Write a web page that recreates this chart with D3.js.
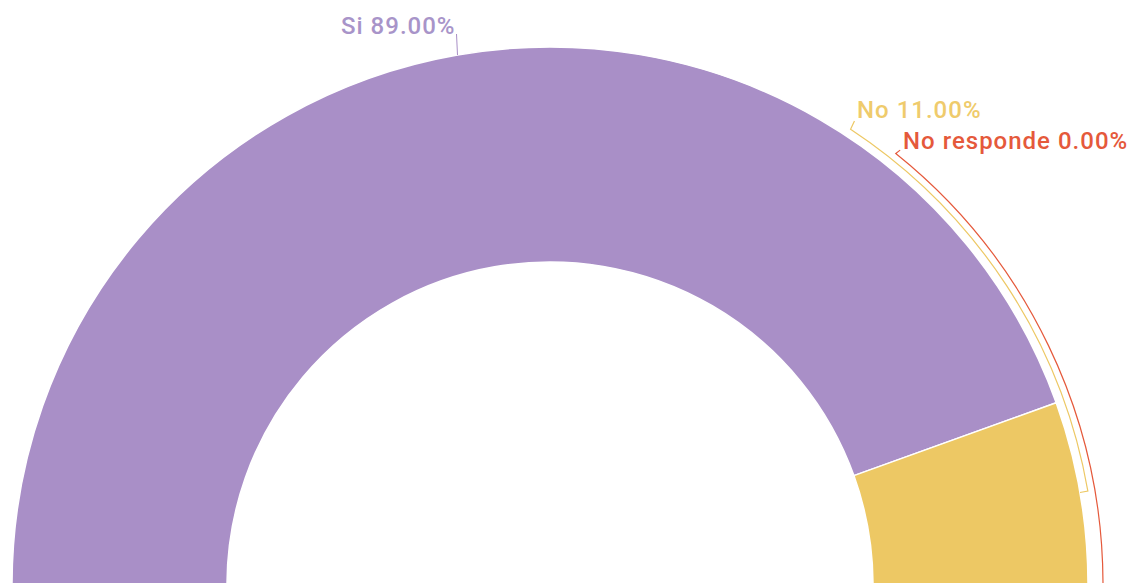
<!DOCTYPE html>
<html>
<head>
<meta charset="utf-8">
<script src="https://cdn.jsdelivr.net/npm/d3@7"></script>
<style>
  html, body { margin: 0; padding: 0; background: #fff; }
  #chart { width: 1130px; height: 583px; overflow: hidden; }
  .label { font-family: Roboto, "Noto Sans", sans-serif; font-size: 24px; font-weight: 500; letter-spacing: 1px; }
</style>
</head>
<body>
<div id="chart"></div>
<script>
const categories = ["Si", "No", "No responde"];
const values = [89, 11, 0];
const colors = ["#a98fc7", "#edc864", "#e5593b"];
const textColors = ["#a894c9", "#efcb6c", "#e5593b"];

const width = 1130,
  height = 583;
const cx = 550,
  cy = 585,
  outerR = 538,
  innerR = 323;

// label guides: radius of the guide arc, angle (deg) where the guide ends, text offset
const guides = [
  { r: outerR, angle: null, dx: -2, dy: 0 },
  { r: 546, angle: 33.4, dx: 6.5, dy: -11 },
  { r: 553, angle: 38.7, dx: 7.3, dy: -4.4 }
];

const svg = d3.select("#chart").append("svg")
  .attr("width", width)
  .attr("height", height);

const g = svg.append("g")
  .attr("transform", "translate(" + cx + "," + cy + ")");

const pie = d3.pie()
  .sort(null)
  .value(d => d)
  .startAngle(-Math.PI / 2)
  .endAngle(Math.PI / 2);

const arcs = pie(values);

const arc = d3.arc()
  .innerRadius(innerR)
  .outerRadius(outerR);

g.selectAll("path.slice")
  .data(arcs)
  .enter().append("path")
  .attr("class", "slice")
  .attr("d", arc)
  .attr("fill", (d, i) => colors[i])
  .attr("stroke", "#fff")
  .attr("stroke-width", 1.5);

const polar = (r, a) => [r * Math.sin(a), -r * Math.cos(a)];
const rad = deg => deg * Math.PI / 180;

arcs.forEach((d, i) => {
  const mid = (d.startAngle + d.endAngle) / 2;
  const gd = guides[i];
  const start = polar(outerR, mid);
  const text = labelText(i);

  if (gd.angle === null) {
    // straight tick up to the label
    const topY = 34 - cy;
    g.append("path")
      .attr("d", "M" + start[0] + "," + start[1] + "L" + (start[0] - 1) + "," + topY)
      .attr("fill", "none")
      .attr("stroke", colors[i])
      .attr("stroke-width", 1);
    g.append("text")
      .attr("class", "label")
      .attr("x", start[0] + gd.dx)
      .attr("y", topY)
      .attr("text-anchor", "end")
      .attr("fill", textColors[i])
      .text(text);
    return;
  }

  const p0 = polar(gd.r, mid);
  const pe = polar(gd.r, rad(gd.angle));
  // arc along the guide radius from the slice middle back to the label angle
  const path = d3.path();
  path.moveTo(start[0], start[1]);
  path.lineTo(p0[0], p0[1]);
  path.arc(0, 0, gd.r, mid - Math.PI / 2, rad(gd.angle) - Math.PI / 2, true);
  path.lineTo(pe[0] + gd.dx * 0.6, pe[1] + gd.dy * 0.75);

  g.append("path")
    .attr("d", path.toString())
    .attr("fill", "none")
    .attr("stroke", colors[i])
    .attr("stroke-width", 1.2);

  g.append("text")
    .attr("class", "label")
    .attr("x", pe[0] + gd.dx)
    .attr("y", pe[1] + gd.dy)
    .attr("fill", textColors[i])
    .text(text);
});

function labelText(i) {
  return categories[i] + " " + values[i].toFixed(2) + "%";
}
</script>
</body>
</html>
